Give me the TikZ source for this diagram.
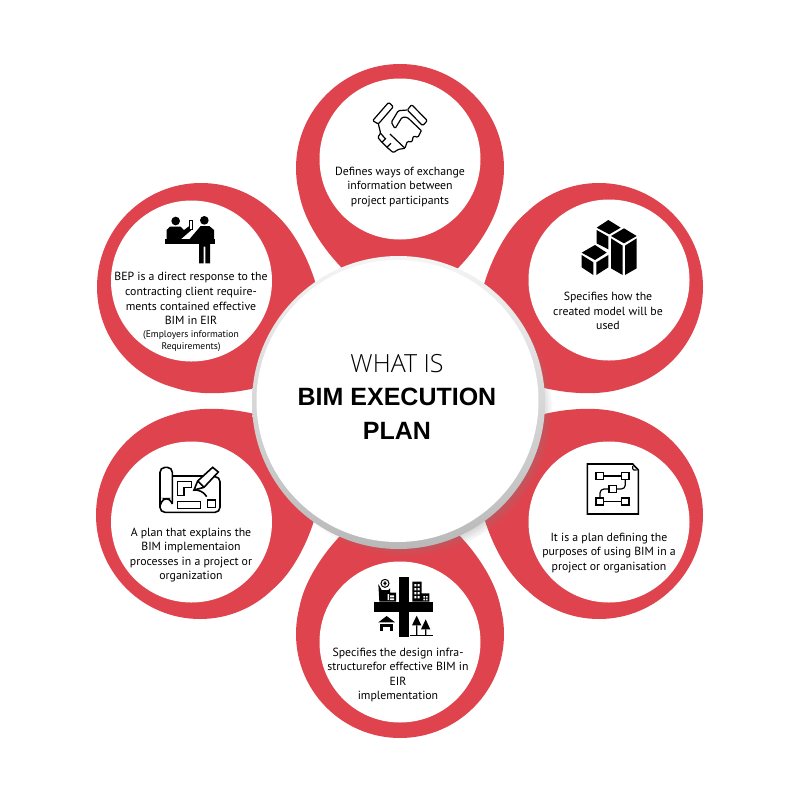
\documentclass[tikz,border=0pt]{standalone}
\usepackage{fontspec}
\setmainfont{PT Sans}
\newfontfamily\headfont{Liberation Sans}
\newfontfamily\lightfont{Open Sans Light}
\usetikzlibrary{shadows}
\definecolor{petalred}{HTML}{DF444E}
\newcommand{\notefont}{\fontsize{9.6}{12}\selectfont}
\tikzset{
  petal/.style  = {fill=petalred},
  disc/.style   = {circle, fill=white, minimum size=161pt, inner sep=0pt},
  blurb/.style  = {align=center, inner sep=0pt, text=black, font=\fontsize{11.8}{14.6}\selectfont},
  ring/.style   = {circle, minimum size=293pt, inner sep=0pt, top color=gray!8, bottom color=gray!55!white,
                   circular drop shadow={shadow xshift=7pt, shadow yshift=-7pt, shadow scale=1.0, opacity=.65}},
  hub/.style    = {circle, fill=white, minimum size=282pt, inner sep=0pt},
  title/.style  = {align=center, inner sep=0pt, text=black},
  icon/.style 2 args = {shift={(#1,#2)}, scale=1/3},
  stroke/.style = {draw=black, line width=1.2pt, line join=round, rounded corners=1.2pt},
  heavy/.style  = {draw=black, line width=1.6pt, line join=miter}
}

\begin{document}
\begin{tikzpicture}[x=1pt, y=-1pt]

\fill[white] (0,0) rectangle (801,801);
\useasboundingbox (0,0) rectangle (801,801);

% red petals, all the same shape turned round the hub
\foreach \px/\py/\spin in {400/168/0, 599/287/-60, 599/515/-120, 400/634/180, 200/515/120, 201/287/60}{
  \fill[petal, shift={(\px,\py)}] (0,0) circle (104);
  \fill[petal, shift={(\px,\py)}, rotate=\spin]
    (-100.4,27) .. controls (-95,58) and (-66,98) .. (-35,120)
    -- (35,120) .. controls (66,98) and (95,58) .. (100.4,27) -- cycle;
}

% white discs
\node[disc] (d1) at (400,159) {};
\node[disc] (d2) at (609,280) {};
\node[disc] (d3) at (609,522) {};
\node[disc] (d4) at (400,642) {};
\node[disc] (d5) at (191.5,522) {};
\node[disc] (d6) at (191.5,281) {};

% the hub
\node[ring] (rim) at (398.5,402.5) {};
\node[hub] (core) at (397.5,401) {};
\node[title, font=\lightfont\fontsize{25}{30}\selectfont] (what) at (397,364) {WHAT IS};
\node[title, font=\headfont\bfseries\fontsize{25}{30}\selectfont] (bim) at (397,397) {BIM EXECUTION};
\node[title, font=\headfont\bfseries\fontsize{25}{30}\selectfont] (plan) at (397,431) {PLAN};

% the texts
\node[blurb] (t1) at (400,187) {Defines ways of exchange\\information between\\project participants};
\node[blurb] (t2) at (608,311) {Specifies how the\\created model will be\\used};
\node[blurb] (t3) at (609,553) {It is a plan defining the\\purposes of using BIM in a\\project or organisation};
\node[blurb] (t4) at (398,675) {Specifies the design infra-\\structurefor effective BIM in\\EIR\\implementation};
\node[blurb] (t5) at (191,555) {A plan that explains the\\BIM implementaion\\processes in a project or\\organization};
\node[blurb] (t6) at (191,312) {BEP is a direct response to the\\contracting client require-\\ments contained effective\\BIM in EIR\\[-2pt]\notefont (Employers information\\[-2.6pt]\notefont Requirements)};

% handshake
\begin{scope}[icon={290}{60}]
  \draw[stroke] (248,182) -- (296,127) -- (310,140) -- (265,192) -- cycle;
  \draw[stroke] (352,150) -- (365,134) -- (412,182) -- (398,197) -- cycle;
  \draw[stroke] (352,150) -- (325,152) -- (304,187) -- (315,206) -- (336,172) -- (352,172) -- (394,212);
  \draw[stroke] (394,212) -- (384,232) -- (370,228) -- (366,246) -- (352,244) -- (345,265) -- (300,222);
  \draw[stroke] (265,192) -- (272,220) -- (263,232) -- (276,247) -- (291,262) -- (310,278) -- (325,268) -- (345,265);
  \draw[stroke] (272,220) -- (285,235) (276,247) -- (288,235) (291,262) -- (303,250);
\end{scope}

% two people at a counter
\begin{scope}[icon={90}{180}]
  \fill (257,123) circle (13);
  \fill (343,121) circle (13);
  \fill (230,178) -- (230,150) -- (240,140) -- (272,140) -- (282,150) -- (302,135) -- (308,147) -- (272,178) -- cycle;
  \fill (225,178) rectangle (375,192);
  \fill (298,178) -- (332,138) -- (358,138) -- (372,150) -- (372,178) -- (360,178) -- (360,250) -- (346,250) -- (346,200) -- (341,200) -- (341,250) -- (327,250) -- (327,178) -- cycle;
  \draw[black, line width=.6pt, fill=white] (298,120) rectangle (308,147);
\end{scope}

% stacked blocks
\begin{scope}[icon={480}{180}]
  \fill (385,120) -- (422,143) -- (388,163) -- (350,143) -- cycle;
  \fill (350,150) -- (385,170) -- (385,208) -- (366,198) -- (350,190) -- cycle;
  \fill (432,145) -- (470,168) -- (432,190) -- (393,168) -- cycle;
  \fill (393,175) -- (428,197) -- (428,285) -- (393,265) -- cycle;
  \fill (435,197) -- (470,175) -- (470,265) -- (435,285) -- cycle;
  \fill (345,195) -- (380,218) -- (345,240) -- (305,218) -- cycle;
  \fill (305,225) -- (340,247) -- (340,285) -- (305,262) -- cycle;
  \fill (349,247) -- (385,225) -- (385,262) -- (349,285) -- cycle;
\end{scope}

% flow chart on a sheet
\begin{scope}[icon={480}{400}]
  \draw[heavy] (322,192) -- (458,192) -- (475,210) -- (475,342) -- (322,342) -- cycle;
  \draw[stroke] (458,198) -- (458,210) -- (470,210);
  \draw[heavy, line width=1.2pt] (348,217) rectangle (370,238) (425,217) rectangle (447,238)
    (387,257) rectangle (409,278) (348,294) rectangle (370,315) (425,294) rectangle (447,315);
  \draw[stroke] (370,228) -- (425,228);
  \draw[stroke] (370,305) -- (425,305);
  \draw[stroke, rounded corners=4pt] (436,238) -- (436,267) -- (409,267);
  \draw[stroke, rounded corners=4pt] (387,267) -- (360,267) -- (360,294);
\end{scope}

% plan with a pencil
\begin{scope}[icon={90}{400}]
  \draw[heavy, rounded corners=5pt] (247,310) -- (247,202) -- (210,202) -- (210,337) -- (390,337) -- (390,230) -- (370,230);
  \draw[heavy] (247,228) -- (338,228);
  \draw[heavy, rounded corners=4pt] (210,318) -- (218,296) -- (240,296) -- (247,312);
  \draw[heavy] (262,245) -- (305,245) -- (305,263) -- (282,263) -- (282,287) -- (262,287) -- cycle;
  \draw[heavy] (262,305) rectangle (332,325);
  \draw[heavy] (352,300) rectangle (376,323);
  \draw[heavy] (312,270) -- (323,243) -- (368,202) -- (385,216) -- (342,262) -- cycle;
  \draw[heavy] (323,243) -- (342,262);
  \draw[heavy, rounded corners=6pt] (312,270) -- (335,270) -- (350,290);
\end{scope}

% city blocks round a crossing
\begin{scope}[icon={290}{520}]
  \fill (326,172) rectangle (356,350);
  \fill (252,245) rectangle (430,275);
  \fill (265,192) -- (275,210) -- (295,210) -- (300,205) -- (300,218) -- (318,218) -- (318,245) -- (268,245) -- cycle;
  \draw[black, line width=1pt, fill=white] (285,190) circle (12);
  \fill (280,188) rectangle (290,192) (283,184) rectangle (287,196);
  \fill[white] (293,222) rectangle (297,240) (300,226) rectangle (312,232) (300,235) rectangle (312,240);
  \fill (367,185) rectangle (395,245) (395,220) rectangle (418,245);
  \foreach \wy in {192,204,216,228}
    \fill[white] (373,\wy) rectangle (379,\wy+7) (383,\wy) rectangle (389,\wy+7);
  \fill[white] (400,228) rectangle (405,233) (408,228) rectangle (413,233) (400,236) rectangle (405,241) (408,236) rectangle (413,241);
  \fill (265,307) -- (290,288) -- (315,307) -- cycle;
  \fill (270,311) rectangle (310,332);
  \fill[white] (280,320) rectangle (300,332);
  \fill (380,287) -- (366,316) -- (394,316) -- cycle;
  \fill (407,298) -- (393,328) -- (421,328) -- cycle;
  \fill (378,316) rectangle (382,345) (405,328) rectangle (409,345);
  \fill (360,345) rectangle (430,349);
\end{scope}

\end{tikzpicture}
\end{document}
